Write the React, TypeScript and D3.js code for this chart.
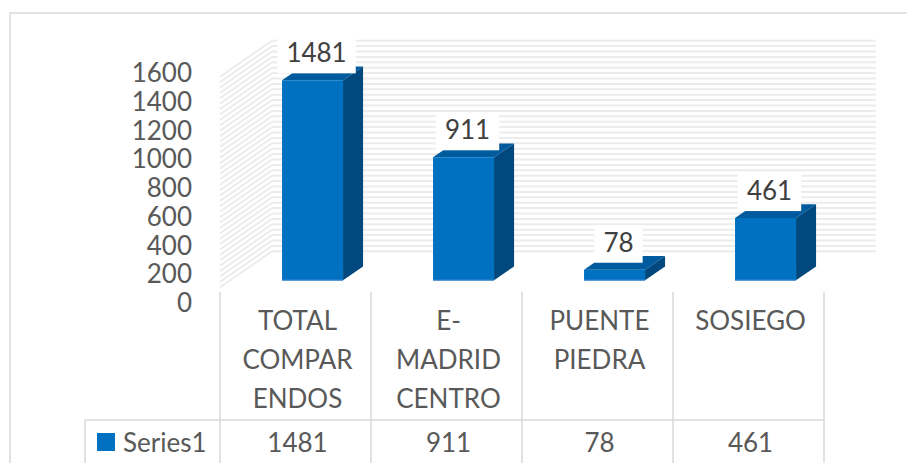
import React from "react";
import * as d3 from "d3";

const categories: string[][] = [
  ["TOTAL", "COMPAR", "ENDOS"],
  ["E-", "MADRID", "CENTRO"],
  ["PUENTE", "PIEDRA"],
  ["SOSIEGO"],
];
const seriesName = "Series1";
const values: number[] = [1481, 911, 78, 461];
const tickValues: number[] = [0, 200, 400, 600, 800, 1000, 1200, 1400, 1600];

const W = 907;
const H = 463;
const FONT = "Lato, 'Open Sans', sans-serif";

export default function App() {
  const keys = categories.map((c) => c.join(" "));
  const x = d3.scaleBand<string>().domain(keys).range([220, 824]).paddingInner(0).paddingOuter(0);
  const h = d3.scaleLinear().domain([0, 1600]).range([0, 216]);
  const tickY = d3.scaleLinear().domain([0, 1600]).range([312, 82]);
  const floorY = 290;
  const depthX = 52;
  const depthY = 36;
  const proj = (px: number, v: number, d: number): [number, number] => [px + depthX * d, floorY - h(v) - depthY * d];
  const pt = (p: [number, number]) => p.join(",");

  const d0 = 0.27;
  const d1 = 0.655;
  const barInset = 48;
  const barW = 61;
  const bw = x.bandwidth();

  const stripeVals = d3.range(20, 1600, 40);
  const gridColor = "#d9d9d9";

  return (
    <svg width={W} height={H} style={{ position: "absolute", left: 0, top: 0, background: "#fff" }} fontFamily={FONT}>
      <rect x={0} y={0} width={W} height={H} fill="#fff" />
      {/* outer frame */}
      <path d={`M10,${H} L10,13 L${W},13`} fill="none" stroke={gridColor} strokeWidth={1.5} />

      {/* side wall */}
      <polygon
        points={[proj(220, 0, 0), proj(220, 1600, 0), proj(220, 1600, 1), proj(220, 0, 1)].map(pt).join(" ")}
        fill="#fff"
      />
      {stripeVals.map((v) => {
        const a = proj(220, v, 0);
        const b = proj(220, v, 1);
        return <line key={"s" + v} x1={a[0]} y1={a[1]} x2={b[0]} y2={b[1]} stroke="#ececec" strokeWidth={2} />;
      })}
      {/* back wall */}
      {stripeVals.map((v) => {
        const a = proj(220, v, 1);
        const b = proj(824, v, 1);
        return <line key={"b" + v} x1={a[0]} y1={a[1]} x2={b[0]} y2={b[1]} stroke="#ececec" strokeWidth={2} />;
      })}

      {/* y tick labels */}
      {tickValues.map((t) => (
        <text key={"t" + t} x={192} y={tickY(t)} textAnchor="end" fontSize={26} fill="#595959">
          {t}
        </text>
      ))}

      {/* bars */}
      {values.map((v, i) => {
        const left = (x(keys[i]) as number) + barInset;
        const right = left + barW;
        const fbl = proj(left, 0, d0);
        const fbr = proj(right, 0, d0);
        const ftl = proj(left, v, d0);
        const ftr = proj(right, v, d0);
        const btl = proj(left, v, d1);
        const btr = proj(right, v, d1);
        const bbr = proj(right, 0, d1);
        return (
          <g key={"bar" + i}>
            <polygon points={[fbr, ftr, btr, bbr].map(pt).join(" ")} fill="#00487d" />
            <polygon points={[ftl, ftr, btr, btl].map(pt).join(" ")} fill="#005a9e" />
            <polygon points={[fbl, ftl, ftr, fbr].map(pt).join(" ")} fill="#0070c0" />
            <line x1={fbl[0]} y1={fbl[1]} x2={fbr[0]} y2={fbr[1]} stroke="#5b9bd5" strokeWidth={1.2} />
          </g>
        );
      })}

      {/* data labels */}
      {values.map((v, i) => {
        const left = (x(keys[i]) as number) + barInset;
        const ftl = proj(left, v, d0);
        const cx = ftl[0] + barW / 2 + 4;
        const base = ftl[1] - 18;
        const tw = String(v).length * 15.1;
        return (
          <g key={"lbl" + i}>
            <rect x={cx - tw / 2 - 9} y={base - 26} width={tw + 18} height={37} fill="#fff" />
            <text x={cx} y={base} textAnchor="middle" fontSize={26} fill="#404040">
              {v}
            </text>
          </g>
        );
      })}

      {/* data table lines */}
      {d3.range(keys.length + 1).map((j) => {
        const xx = 220 + j * bw;
        return <line key={"v" + j} x1={xx} y1={292} x2={xx} y2={H} stroke={gridColor} strokeWidth={1.5} />;
      })}
      <line x1={85} y1={420} x2={824} y2={420} stroke={gridColor} strokeWidth={1.5} />
      <line x1={85} y1={420} x2={85} y2={H} stroke={gridColor} strokeWidth={1.5} />

      {/* category labels */}
      {categories.map((lines, i) => {
        const cx = (x(keys[i]) as number) + bw / 2 + 2;
        return (
          <text key={"c" + i} textAnchor="middle" fontSize={26} fill="#595959">
            {lines.map((ln, k) => (
              <tspan key={k} x={cx} y={330 + k * 39}>
                {ln}
              </tspan>
            ))}
          </text>
        );
      })}

      {/* legend row */}
      <rect x={97} y={433} width={18} height={18} fill="#0070c0" />
      <text x={123} y={452} fontSize={26} fill="#595959">
        {seriesName}
      </text>
      {values.map((v, i) => (
        <text key={"tv" + i} x={(x(keys[i]) as number) + bw / 2 + 2} y={452} textAnchor="middle" fontSize={26} fill="#595959">
          {v}
        </text>
      ))}
    </svg>
  );
}
